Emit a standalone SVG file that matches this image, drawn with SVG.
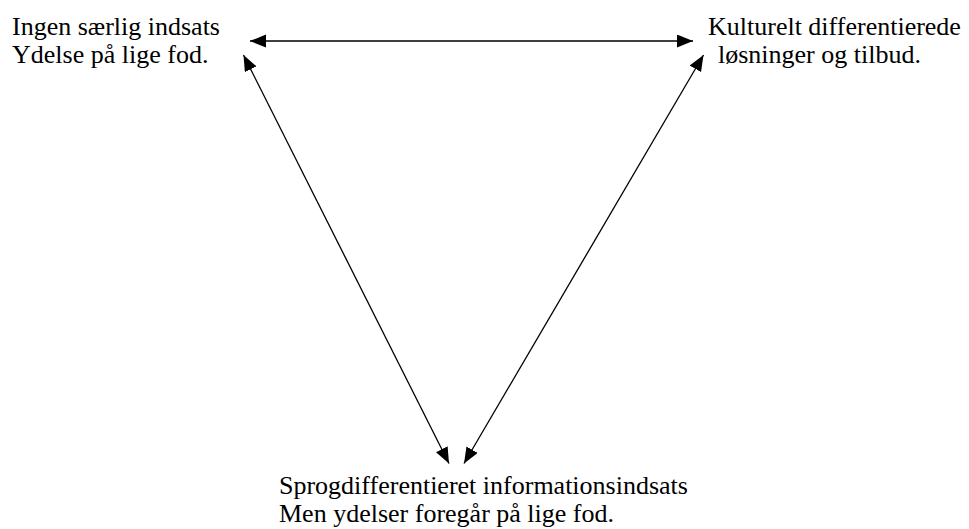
<svg xmlns="http://www.w3.org/2000/svg" width="969" height="529" viewBox="0 0 969 529">
<defs>
<marker id="ah" markerUnits="userSpaceOnUse" markerWidth="17" markerHeight="14" refX="16" refY="6.5" orient="auto-start-reverse" viewBox="0 0 17 14">
<path d="M0,0 L16,6.5 L0,13 z" fill="#000"/>
</marker>
</defs>
<rect width="969" height="529" fill="#fff"/>
<g id="connectors" stroke="#000" stroke-width="1.3" fill="none" marker-start="url(#ah)" marker-end="url(#ah)">
<line x1="250" y1="41" x2="693" y2="41"/>
<line x1="243.5" y1="55" x2="449" y2="463.5"/>
<line x1="703.5" y1="55" x2="464" y2="463.5"/>
</g>
<g font-family="Liberation Serif" font-size="26" fill="#000">
<g id="node-ingen">
<text x="12" y="34.5">Ingen særlig indsats</text>
<text x="12" y="62.5">Ydelse på lige fod.</text>
</g>
<g id="node-kulturelt">
<text x="708" y="35">Kulturelt differentierede</text>
<text x="718" y="63">løsninger og tilbud.</text>
</g>
<g id="node-sprog">
<text x="279" y="493.5">Sprogdifferentieret informationsindsats</text>
<text x="279" y="521.5">Men ydelser foregår på lige fod.</text>
</g>
</g>
</svg>
